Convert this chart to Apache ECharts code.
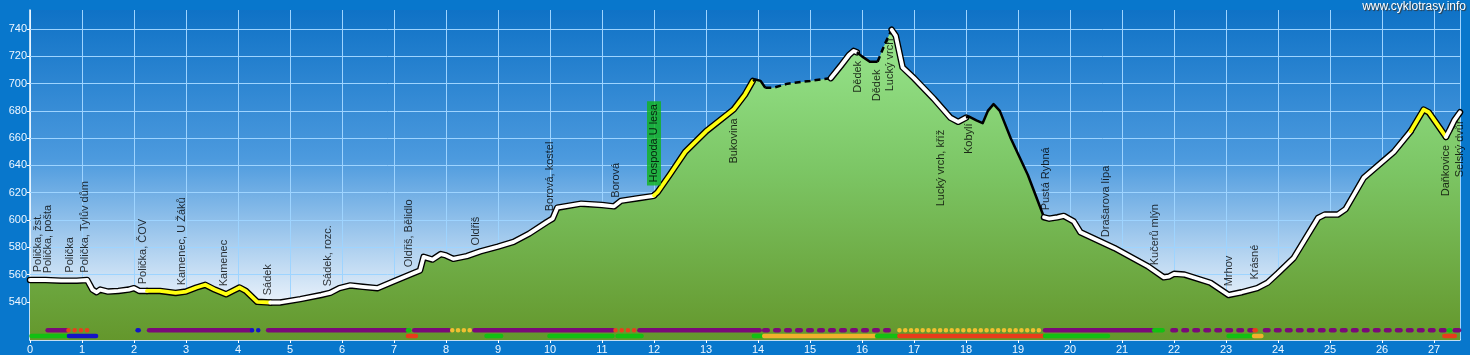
<!DOCTYPE html>
<html lang="cs">

<head>
    <meta charset="UTF-8">
    <title>Výškový profil</title>
    <style>
        * {
            margin: 0;
            padding: 0;
            box-sizing: border-box;
        }

        html,
        body {
            height: 100%;
            background: #0877cc;
        }

        #box {
            width: 1470px;
            height: 355px;
        }
    </style>
    <script src="https://cdn.jsdelivr.net/npm/echarts/dist/echarts.min.js"></script>
</head>

<body>
    <div id="box"></div>

    <script>
        // profil trasy: vzdálenost (km) a nadmořská výška (m)
        var profileKm = [0, 0.3, 0.6, 0.9, 1.1, 1.2, 1.28, 1.35, 1.5, 1.7, 1.9, 2.0, 2.1, 2.25, 2.5, 2.8, 3.0, 3.2, 3.37, 3.55,
            3.77, 3.9, 4.03, 4.15, 4.37, 4.62, 4.81, 5.2, 5.6, 5.77, 5.95, 6.16, 6.4, 6.68, 7.0, 7.37, 7.5, 7.57, 7.74, 7.9,
            8.0, 8.14, 8.4, 8.66, 9.0, 9.3, 9.6, 9.94, 10.05, 10.14, 10.6, 11.0, 11.23, 11.36, 11.7, 11.97, 12.0, 12.07, 12.3, 12.6,
            13.0, 13.53, 13.75, 13.9, 13.95, 14.05, 14.14, 14.3, 14.57, 15.0, 15.4, 15.59, 15.75, 15.84, 15.9, 16.0, 16.15, 16.3, 16.45, 16.57,
            16.65, 16.78, 17.0, 17.38, 17.7, 17.85, 18.0, 18.05, 18.2, 18.32, 18.42, 18.53, 18.65, 18.86, 19.19, 19.5, 19.6, 19.76, 19.88, 20.07,
            20.2, 20.85, 21.5, 21.8, 21.9, 22.0, 22.2, 22.7, 23.05, 23.3, 23.6, 23.8, 24.0, 24.3, 24.77, 24.9, 25.15, 25.3, 25.65, 26.23,
            26.55, 26.8, 26.9, 27.23, 27.3, 27.39, 27.5];
        var profileElev = [556, 556, 555.5, 555.5, 556, 549, 547, 549, 547.5, 548, 549, 550, 548, 548, 548, 546.5, 547.5, 550.5, 552.5, 549,
            545.5, 548, 550.5, 548, 540, 539.5, 539.5, 542, 545, 546.5, 550, 552, 551, 550, 555, 561, 563, 573, 571, 575,
            574, 571.5, 573.5, 577, 580.5, 584, 590, 598.5, 601, 609, 612, 611, 610, 614, 616, 617.5, 618, 620.5, 633, 650,
            665, 681, 692, 702, 703, 702, 697, 697, 700, 702, 704, 713, 721, 724, 723, 720, 716, 716, 730, 739.5,
            735, 712, 704, 689, 675, 672, 675, 676, 673, 671, 680, 685, 680, 660, 633, 602, 601, 602, 603, 599,
            591, 579.5, 566, 558, 558.5, 560.5, 560, 554, 545, 547, 550, 554, 561, 572, 601.5, 604, 604, 608, 631, 650,
            665, 681, 679, 661, 666, 673, 679];

        // úseky čáry profilu: [od km, do km, druh]
        var lineSegs = [
            [0, 2.25, 'white'], [2.25, 4.62, 'yellow'], [4.62, 12.0, 'white'], [12.0, 13.9, 'yellow'],
            [13.9, 14.14, 'black'], [14.14, 15.4, 'dashed'], [15.4, 15.9, 'white'], [15.9, 16.3, 'black'],
            [16.3, 16.57, 'dashed'], [16.57, 18.0, 'white'], [18.0, 19.5, 'black'], [19.5, 26.55, 'white'],
            [26.55, 27.23, 'yellow'], [27.23, 27.5, 'white']
        ];

        // místa na trase
        var placeNames = ['Polička, žst.', 'Polička, pošta', 'Polička', 'Polička, Tylův dům', 'Polička, ČOV', 'Kamenec, U Žáků',
            'Kamenec', 'Sádek', 'Sádek, rozc.', 'Oldřiš, Bělidlo', 'Oldřiš', 'Borová, kostel', 'Borová', 'Hospoda U lesa',
            'Bukovina', 'Dědek', 'Dědek', 'Lucký vrch', 'Lucký vrch, kříž', 'Kobylí', 'Pustá Rybná', 'Drašarova lípa',
            'Kučerů mlýn', 'Mrhov', 'Krásné', 'Daňkovice', 'Selský dvůr'];
        var placeKm = [0.15, 0.35, 0.77, 1.06, 2.17, 2.92, 3.73, 4.58, 5.73, 7.28, 8.57, 10.0, 11.26, 12.0,
            13.53, 15.92, 16.28, 16.53, 17.51, 18.05, 19.53, 20.7, 21.63, 23.05, 23.56, 27.23, 27.5];
        var placeElev = [561.3, 560.5, 561, 561, 552.5, 551.7, 551, 544.4, 551, 565, 581, 606, 616, 625,
            641, 693, 686.7, 694, 609.7, 648, 606.7, 587, 566.4, 551, 556, 617, 631];

        // pruhy pod profilem: [od km, do km, druh]
        var trackTop = [
            [0.34, 0.71, 'purple'], [0.74, 1.2, 'redDot'], [2.07, 2.09, 'blue'], [2.29, 4.25, 'purple'],
            [4.27, 4.5, 'blueDot'], [4.58, 7.23, 'purple'], [7.27, 7.29, 'green'], [7.39, 8.06, 'purple'],
            [8.12, 8.48, 'yellowDot'], [8.55, 11.21, 'purple'], [11.26, 11.66, 'redDot'], [11.72, 14.03, 'purple'],
            [14.12, 16.65, 'purpleDash'], [16.72, 19.45, 'yellowDot'], [19.52, 21.58, 'purple'], [21.62, 21.78, 'green'],
            [21.97, 23.5, 'purpleDash'], [23.55, 23.57, 'red'], [23.75, 27.24, 'purpleDash'], [27.29, 27.31, 'green'],
            [27.4, 27.48, 'purple']
        ];
        var trackBottom = [
            [0.03, 0.71, 'green'], [0.75, 1.27, 'blue'], [7.27, 7.42, 'red'], [8.78, 9.06, 'green'],
            [9.99, 11.2, 'green'], [11.3, 11.76, 'green'], [13.92, 14.08, 'green'], [14.12, 16.25, 'orange'],
            [16.29, 16.66, 'green'], [16.72, 19.48, 'red'], [19.52, 20.73, 'green'], [23.05, 23.5, 'green'],
            [23.54, 23.68, 'orange'], [27.2, 27.4, 'red']
        ];

        var yTicks = [540, 560, 580, 600, 620, 640, 660, 680, 700, 720, 740];

        var font = '"Liberation Sans", Arial, sans-serif';
        var trackStyle = {
            purple: { color: '#7a0a78', type: 'solid' },
            purpleDash: { color: '#7a0a78', type: [3.5, 7.5] },
            redDot: { color: '#e8401c', type: [0.01, 6.2] },
            blueDot: { color: '#1414c8', type: [0.01, 6.2] },
            yellowDot: { color: '#f0c030', type: [0.01, 5.8] },
            green: { color: '#12c012', type: 'solid' },
            blue: { color: '#1414c8', type: 'solid' },
            red: { color: '#e83c1a', type: 'solid' },
            orange: { color: '#f0b02c', type: 'solid' }
        };

        function pts(a, b) {
            var out = [];
            for (var i = 0; i < profileKm.length; i++) {
                if (profileKm[i] >= a - 1e-9 && profileKm[i] <= b + 1e-9) {
                    out.push([profileKm[i], profileElev[i]]);
                }
            }
            return out;
        }

        function lineSeries(data, style, z) {
            return {
                type: 'line',
                data: data,
                showSymbol: false,
                silent: true,
                z: z,
                lineStyle: style
            };
        }

        var series = [];

        // mřížka vodorovně
        series.push({
            type: 'line',
            data: [[0, 512]],
            showSymbol: false,
            lineStyle: { opacity: 0 },
            z: 1,
            markLine: {
                z: 1,
                silent: true,
                symbol: ['none', 'none'],
                label: { show: false },
                lineStyle: { color: '#9ed4ff', width: 1, type: 'solid' },
                data: yTicks.map(function (v) { return { yAxis: v }; })
            }
        });

        // terén
        series.push({
            type: 'line',
            data: pts(0, 27.5),
            showSymbol: false,
            silent: true,
            z: 2,
            lineStyle: { width: 0 },
            areaStyle: {
                origin: 'start',
                opacity: 1,
                color: new echarts.graphic.LinearGradient(0, 0, 0, 1, [
                    { offset: 0, color: '#98e68e' },
                    { offset: 0.45, color: '#7cc665' },
                    { offset: 1, color: '#64972c' }
                ])
            }
        });

        lineSegs.forEach(function (s) {
            var d = pts(s[0], s[1]);
            if (s[2] === 'white' || s[2] === 'yellow') {
                series.push(lineSeries(d, { color: '#000', width: 6.5, cap: 'round', join: 'round' }, 3));
                series.push(lineSeries(d, { color: s[2] === 'white' ? '#ffffff' : '#ffff10', width: 3.8, cap: 'round', join: 'round' }, 4));
            } else if (s[2] === 'black') {
                series.push(lineSeries(d, { color: '#000', width: 2.5, join: 'round' }, 4));
            } else {
                series.push(lineSeries(d, { color: '#000', width: 2.5, type: [6, 4] }, 4));
            }
        });

        function addTrack(list, y) {
            list.forEach(function (s) {
                var st = trackStyle[s[2]];
                series.push(lineSeries([[s[0], y], [s[1], y]], {
                    color: st.color, width: 4.6, type: st.type, cap: 'round'
                }, 5));
            });
        }
        addTrack(trackTop, 519.2);
        addTrack(trackBottom, 514.9);

        // popisky míst
        series.push({
            type: 'scatter',
            symbolSize: 1,
            itemStyle: { color: 'rgba(0,0,0,0)' },
            silent: true,
            z: 6,
            label: {
                show: true,
                position: 'top',
                distance: 0,
                rotate: 90,
                align: 'left',
                verticalAlign: 'middle',
                color: '#000',
                fontSize: 11,
                fontFamily: font,
                formatter: function (p) { return p.name; }
            },
            data: placeNames.map(function (n, i) {
                var item = { name: n, value: [placeKm[i], placeElev[i]] };
                if (n === 'Hospoda U lesa') {
                    item.label = { backgroundColor: '#12b41a', padding: [2, 3, 1, 3] };
                }
                return item;
            })
        });

        var myChart = echarts.init(document.getElementById('box'));
        myChart.setOption({
            animation: false,
            backgroundColor: '#0877cc',
            grid: {
                left: 30,
                right: 10,
                top: 10,
                bottom: 15,
                show: true,
                borderWidth: 0,
                backgroundColor: new echarts.graphic.LinearGradient(0, 0, 0, 1, [
                    { offset: 0, color: '#0f72c6' },
                    { offset: 0.45, color: '#4c9ade' },
                    { offset: 0.9, color: '#eef4fb' },
                    { offset: 1, color: '#ffffff' }
                ])
            },
            xAxis: {
                type: 'value',
                min: 0,
                max: 27.5,
                interval: 1,
                axisLine: { lineStyle: { color: '#ffffff', width: 1.5 } },
                axisTick: { length: 3, lineStyle: { color: '#ffffff' } },
                axisLabel: { color: '#eef6ff', fontSize: 11, fontFamily: font, margin: 4, showMaxLabel: false },
                splitLine: { show: true, lineStyle: { color: '#9ed4ff', width: 1 } }
            },
            yAxis: {
                type: 'value',
                min: 512,
                max: 754,
                axisLine: { show: true, lineStyle: { color: '#ffffff', width: 1.5 } },
                axisTick: { show: true, length: 3, customValues: yTicks, lineStyle: { color: '#ffffff' } },
                axisLabel: { color: '#eef6ff', fontSize: 11, fontFamily: font, margin: 3, customValues: yTicks },
                splitLine: { show: false }
            },
            graphic: [{
                type: 'text',
                right: 4,
                top: 1,
                style: {
                    text: 'www.cyklotrasy.info',
                    fill: '#ffffff',
                    font: '12px ' + font,
                    textShadowColor: '#333',
                    textShadowOffsetX: 1,
                    textShadowOffsetY: 1,
                    textShadowBlur: 1
                }
            }],
            series: series
        });

        window.onresize = function () {
            myChart.resize();
        };
    </script>
</body>

</html>
